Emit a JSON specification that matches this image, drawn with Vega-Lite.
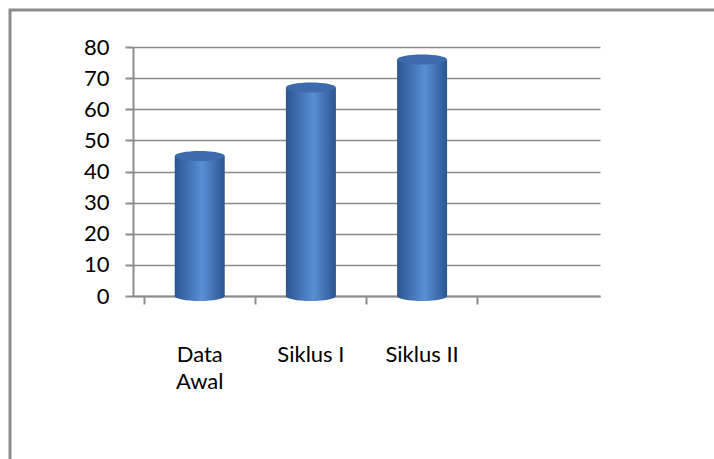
{
  "$schema": "https://vega.github.io/schema/vega-lite/v6.json",
  "width": 710,
  "height": 455,
  "autosize": {"type": "none"},
  "padding": {"left": 10, "top": 10, "right": -6, "bottom": -6},
  "background": "white",
  "config": {
    "view": {"stroke": "#8c8c8c", "strokeWidth": 3},
    "font": "Lato"
  },
  "data": {
    "values": [
      {"kategori": "Data Awal", "nilai": 45},
      {"kategori": "Siklus I", "nilai": 67},
      {"kategori": "Siklus II", "nilai": 76}
    ]
  },
  "encoding": {
    "x": {
      "field": "kategori",
      "type": "nominal",
      "sort": null,
      "scale": {
        "domain": ["Data Awal", "Siklus I", "Siklus II", " "],
        "range": [123, 590],
        "paddingInner": 0,
        "paddingOuter": 0.1
      },
      "axis": {
        "title": null,
        "bandPosition": 0,
        "labelAngle": 0,
        "labelBaseline": "top",
        "labelPadding": 40,
        "labelLineHeight": 27,
        "labelFontSize": 22,
        "labelColor": "#000000",
        "labelExpr": "datum.value == 'Data Awal' ? ['Data', 'Awal'] : datum.value",
        "tickSize": 8,
        "tickColor": "#8c8c8c",
        "tickWidth": 2,
        "domainColor": "#8c8c8c",
        "domainWidth": 2,
        "grid": false,
        "offset": -169
      }
    },
    "y": {
      "field": "nilai",
      "type": "quantitative",
      "scale": {"domain": [0, 80], "range": [286, 37], "nice": false},
      "axis": {
        "title": null,
        "values": [0, 10, 20, 30, 40, 50, 60, 70, 80],
        "offset": -123,
        "grid": true,
        "gridColor": "#8c8c8c",
        "gridWidth": 1.5,
        "tickSize": 8,
        "tickColor": "#8c8c8c",
        "tickWidth": 2,
        "domainColor": "#8c8c8c",
        "domainWidth": 2,
        "labelFontSize": 22,
        "labelColor": "#000000",
        "labelPadding": 16
      }
    }
  },
  "layer": [
    {
      "mark": {
        "type": "point",
        "shape": "M-1,0A1,0.2,0,1,0,1,0A1,0.2,0,1,0,-1,0Z",
        "size": 2500,
        "filled": true,
        "opacity": 1,
        "color": {
          "gradient": "linear", "x1": 0, "y1": 0, "x2": 1, "y2": 0,
          "stops": [
            {"offset": 0, "color": "#2b5591"},
            {"offset": 0.55, "color": "#5a8ed4"},
            {"offset": 1, "color": "#2b5591"}
          ]
        }
      },
      "encoding": {"y": {"datum": 0}}
    },
    {
      "mark": {
        "type": "bar",
        "width": 50,
        "color": {
          "gradient": "linear", "x1": 0, "y1": 0, "x2": 1, "y2": 0,
          "stops": [
            {"offset": 0, "color": "#2b5591"},
            {"offset": 0.55, "color": "#5a8ed4"},
            {"offset": 1, "color": "#2b5591"}
          ]
        }
      }
    },
    {
      "mark": {
        "type": "point",
        "shape": "M-1,0A1,0.2,0,1,0,1,0A1,0.2,0,1,0,-1,0Z",
        "size": 2500,
        "filled": true,
        "opacity": 1,
        "color": "#3d6aab"
      }
    }
  ]
}
